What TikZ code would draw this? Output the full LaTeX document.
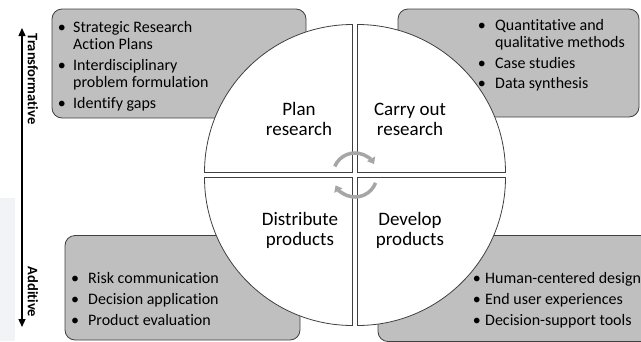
\documentclass[tikz,border=0pt]{standalone}
\usepackage{fontspec}
\setmainfont[Ligatures=NoCommon]{Carlito}
\usetikzlibrary{arrows.meta}
\definecolor{boxgray}{HTML}{BFBFBF}
\definecolor{edgegray}{HTML}{404040}
\definecolor{arrgray}{HTML}{A6A6A6}
\definecolor{fadebg}{HTML}{F1F3F6}
\newcommand{\bitem}[2]{\makebox[#1][l]{\textbullet}#2}
\newcommand{\bcont}[2]{\hspace*{#1}#2}
\begin{document}
\begin{tikzpicture}[x=1pt,y=1pt,
  panel/.style={draw=edgegray, line width=0.8pt, fill=boxgray, rounded corners=10pt},
  quad/.style={draw=edgegray, line width=0.8pt, fill=white},
  big/.style={font=\fontsize{19}{20}\selectfont, align=center, inner sep=0pt, anchor=base},
  list/.style={font=\fontsize{16}{17}\selectfont, align=left, inner sep=0pt, anchor=base west},
  axislabel/.style={font=\fontsize{14.5}{15}\selectfont\bfseries, rotate=-90, inner sep=0pt},
  cyc/.style={draw=arrgray, line width=3.5pt, -{Triangle[length=6pt,width=9pt]}},
  axisline/.style={line width=1.3pt, {Triangle[length=8pt,width=7pt]}-{Triangle[length=8pt,width=7pt]}}
]
\useasboundingbox (0,0) rectangle (641,-341);
\fill[fadebg] (0,-198) rectangle (15,-341);
% panels
\path[panel] (52,-9) rectangle (306,-118);
\path[panel] (398,-9) rectangle (639,-117);
\path[panel] (65,-235.5) rectangle (300,-340);
\path[panel] (378,-235.5) rectangle (660,-341.5);
% quadrants
\path[quad] (352.5,-172.5) -- (204.5,-172.5) arc[start angle=180,end angle=90,radius=148] -- cycle;
\path[quad] (357.5,-172.5) -- (357.5,-24.5) arc[start angle=90,end angle=0,radius=148] -- cycle;
\path[quad] (352.5,-177.5) -- (204.5,-177.5) arc[start angle=180,end angle=270,radius=148] -- cycle;
\path[quad] (357.5,-177.5) -- (505.5,-177.5) arc[start angle=0,end angle=-90,radius=148] -- cycle;
% cycle arrows
\coordinate (hub) at (355,-175);
\draw[cyc] ([shift={(157:22)}]hub) arc[start angle=157,end angle=30,radius=22];
\draw[cyc] ([shift={(-21:22)}]hub) arc[start angle=-21,end angle=-152,radius=22];
% quadrant labels (base = last line)
\node[big] (plan) at (299,-135) {Plan\\research};
\node[big] (carry) at (410,-135) {Carry out\\research};
\node[big] (dist) at (300,-245) {Distribute\\products};
\node[big] (dev) at (410,-245) {Develop\\products};
% lists (base = last line)
\node[list] (tl) at (57.7,-108) {\bitem{15.3pt}{Strategic Research}\\\bcont{15.3pt}{Action Plans}\\[4pt]\bitem{15.3pt}{Interdisciplinary}\\\bcont{15.3pt}{problem formulation}\\[4pt]\bitem{15.3pt}{Identify gaps}};
\node[list] (tr) at (477.7,-88) {\bitem{17.3pt}{Quantitative and}\\\bcont{17.3pt}{qualitative methods}\\[4pt]\bitem{17.3pt}{Case studies}\\[3pt]\bitem{17.3pt}{Data synthesis}};
\node[list] (bl) at (71,-325) {\bitem{17pt}{Risk communication}\\[4pt]\bitem{17pt}{Decision application}\\[4pt]\bitem{17pt}{Product evaluation}};
\node[list] (br) at (472.7,-325) {\bitem{12.3pt}{Human-centered design}\\[4pt]\bitem{12.3pt}{End user experiences}\\[4pt]\bitem{12.3pt}{Decision-support tools}};
% axis
\coordinate (atop) at (22,-28);
\coordinate (abot) at (22,-327);
\draw[axisline] (atop) -- (abot);
\node[axislabel] (trans) at (33,-79) {Transformative};
\node[axislabel] (add) at (33,-292) {Additive};
\end{tikzpicture}
\end{document}
